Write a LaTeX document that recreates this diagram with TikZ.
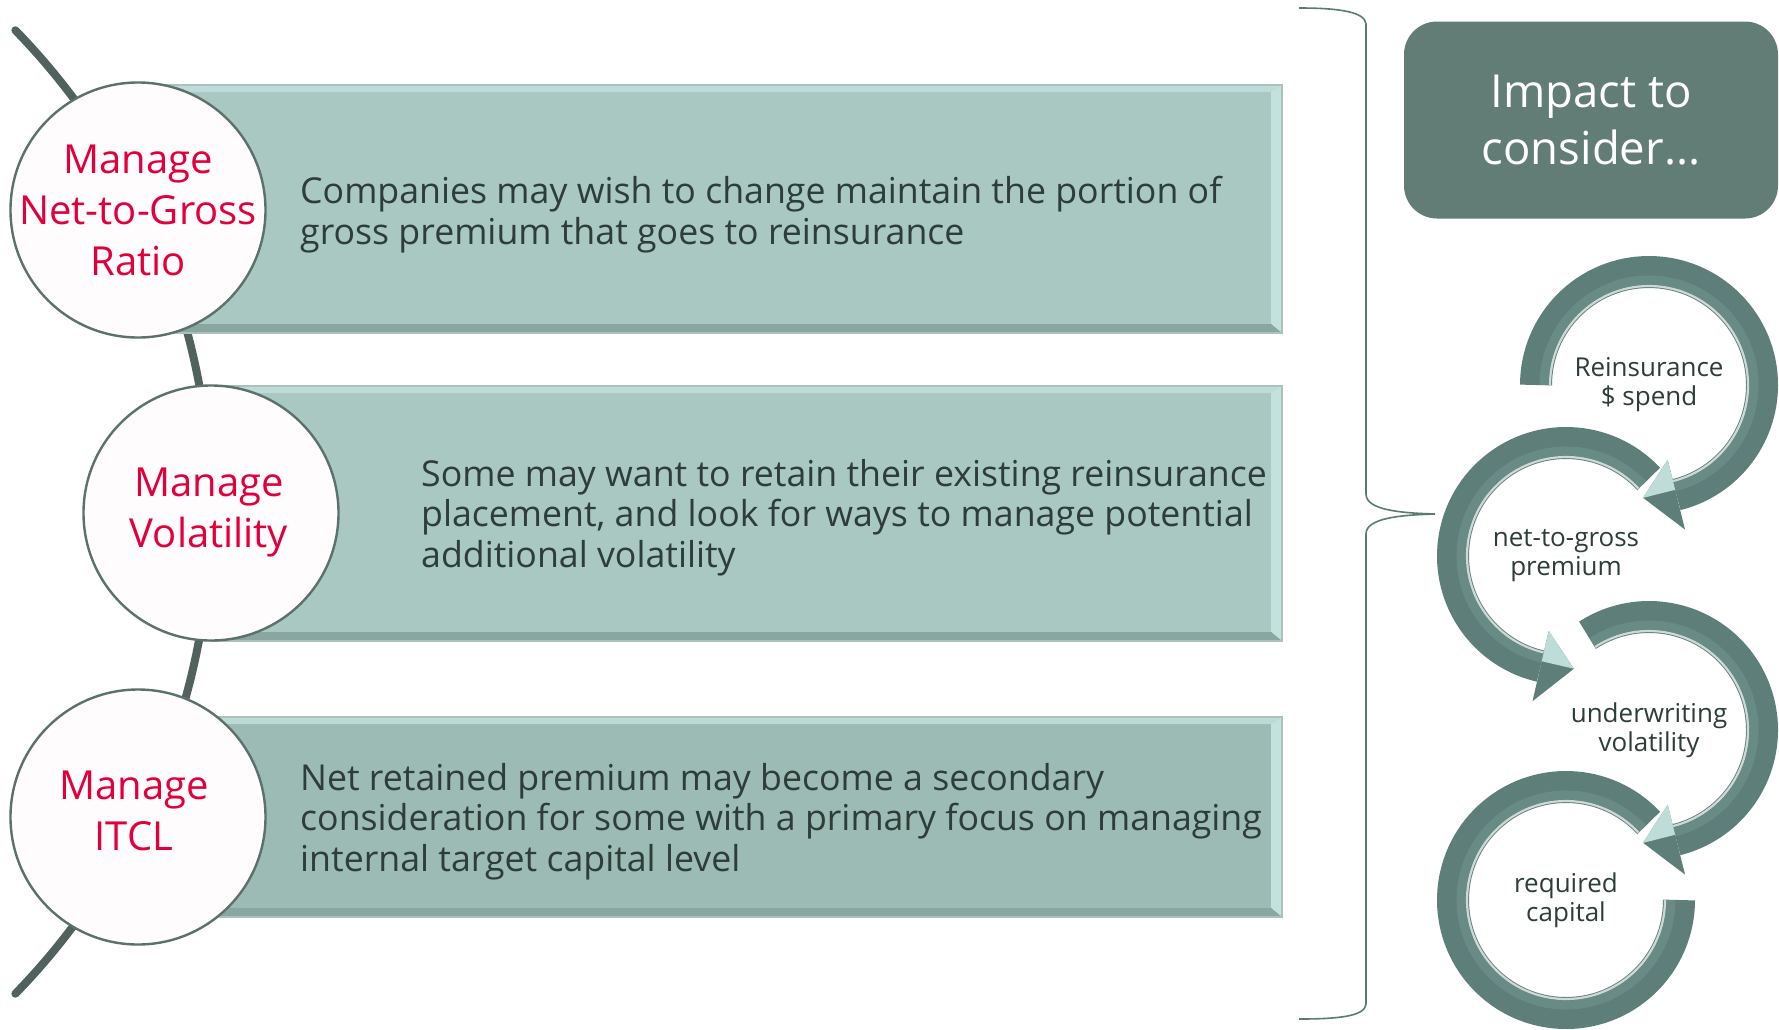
\documentclass[tikz,border=0pt]{standalone}
\usepackage{fontspec}
\setmainfont{Open Sans}
\usetikzlibrary{calc}

\definecolor{ink}{HTML}{2E3D39}
\definecolor{crim}{HTML}{E1003C}
\definecolor{barA}{HTML}{A8C8C1}
\definecolor{barB}{HTML}{9CBBB4}
\definecolor{bevL}{HTML}{C3E2DD}
\definecolor{bevD}{HTML}{8AA6A0}
\definecolor{spineC}{HTML}{4F625D}
\definecolor{rimC}{HTML}{5C716C}
\definecolor{bubbleC}{HTML}{FFFCFE}
\definecolor{ringC}{HTML}{5E7F79}
\definecolor{ringM}{HTML}{7FA39D}
\definecolor{headL}{HTML}{BFDDD8}
\definecolor{boxC}{HTML}{627C76}
\definecolor{braceC}{HTML}{5B7A74}

% bevelled bar: x0, y0, x1, y1, fill colour
\newcommand\bevelbar[5]{%
  \fill[#5] (#1,#2) rectangle (#3,#4);
  \fill[bevL,opacity=.8] (#1,#2) -- (#3,#2) -- (#3-11,#2+7) -- (#1,#2+7) -- cycle;
  \fill[bevL] (#3,#2) -- (#3,#4) -- (#3-11,#4-9) -- (#3-11,#2+7) -- cycle;
  \fill[bevD] (#1,#4) -- (#3,#4) -- (#3-11,#4-9) -- (#1,#4-9) -- cycle;
  \draw[bevD!70!white, line width=1.2pt] (#1,#2) rectangle (#3,#4);
}
% ring body: centre, start angle, end angle
\newcommand\ringarc[3]{%
  \draw[ringC, line width=32pt] ($(#1)+(#2:113)$) arc[start angle=#2, end angle=#3, radius=113];
  \draw[ringM, line width=9pt, opacity=.35] ($(#1)+(#2:105)$) arc[start angle=#2, end angle=#3, radius=105];
  \draw[white, line width=2.2pt, opacity=.7] ($(#1)+(#2:99)$) arc[start angle=#2, end angle=#3, radius=99];
}
% ring arrow head: centre, base angle, tip angle
\newcommand\ringhead[3]{%
  \fill[ringC] ($(#1)+(#2:77)$) -- ($(#1)+(#3:113)$) -- ($(#1)+(#2:149)$) -- cycle;
  \fill[headL] ($(#1)+(#2:77)$) -- ($(#1)+(#3:113)$) -- ($(#1)+(#2:108)$) -- cycle;
}

\begin{document}
\begin{tikzpicture}[x=1pt,y=-1pt,
  bubble/.style={circle, minimum size=255pt, inner sep=0pt, fill=bubbleC, draw=rimC, line width=2.4pt},
  redlbl/.style={text=crim, font=\fontsize{40}{51}\selectfont, align=center, anchor=base, inner sep=0pt},
  body/.style={text=ink, font=\fontsize{35.7}{40.5}\selectfont, align=left, anchor=base west, inner sep=0pt},
  impactbox/.style={rounded corners=33pt, fill=boxC, text=white, font=\fontsize{45.5}{57}\selectfont,
    align=center, minimum width=374pt, minimum height=197pt, inner sep=0pt},
  ringlbl/.style={text=ink, font=\fontsize{26}{29}\selectfont, align=center, inner sep=0pt},
]
\useasboundingbox (0,0) rectangle (1779,1029);
\fill[white] (0,0) rectangle (1779,1029);

% spine behind the circles
\draw[spineC, line width=8pt, line cap=round] (-480,512) ++(-44.2:691)
  arc[start angle=-44.2, end angle=44.2, radius=691];

% bars
\bevelbar{138}{85}{1282}{333}{barA}
\bevelbar{211}{386}{1282}{641}{barA}
\bevelbar{138}{717}{1282}{917}{barB}

% circles (labels placed by the baseline of their last line)
\node[bubble] (m1) at (138,210) {};
\node[bubble] (m2) at (211,513) {};
\node[bubble] (m3) at (138,817) {};
\node[redlbl] (m1t) at (138,275) {Manage\\Net-to-Gross\\Ratio};
\node[redlbl] (m2t) at (209,547) {Manage\\Volatility};
\node[redlbl] (m3t) at (134,850) {Manage\\ITCL};

% bar texts
\node[body] (t1) at (300,244) {Companies may wish to change maintain the portion of\\gross premium that goes to reinsurance};
\node[body] (t2) at (421,567) {Some may want to retain their existing reinsurance\\placement, and look for ways to manage potential\\additional volatility};
\node[body] (t3) at (300,871) {Net retained premium may become a secondary\\consideration for some with a primary focus on managing\\internal target capital level};

% brace
\coordinate (btop) at (1299,8);
\coordinate (btip) at (1435,514);
\coordinate (bbot) at (1299,1019);
\draw[braceC, line width=1.6pt] (btop) .. controls (1340,8) and (1365,12) .. (1366,24)
  -- (1366,494) .. controls (1366,510) and (1400,513) .. (btip)
  .. controls (1400,515) and (1366,518) .. (1366,534)
  -- (1366,1004) .. controls (1365,1016) and (1340,1019) .. (bbot);

% heading box
\node[impactbox] (imp) at (1591,120) {Impact to\\consider...};

% circular arrows
\coordinate (A1) at (1649,385);
\coordinate (A2) at (1566,556);
\coordinate (A3) at (1649,730);
\coordinate (A4) at (1566,900);
\ringarc{A1}{-180}{76}
\ringhead{A1}{76}{93}
\ringarc{A2}{-43}{-257}
\ringhead{A2}{103}{86}
\ringarc{A3}{-123}{76}
\ringhead{A3}{76}{93}
\ringarc{A4}{-43}{-360}

\node[ringlbl] (L1) at (A1) {Reinsurance\\\$ spend};
\node[ringlbl] (L2) at (A2) {net-to-gross\\premium};
\node[ringlbl] (L3) at (A3) {underwriting\\volatility};
\node[ringlbl] (L4) at (A4) {required\\capital};
\end{tikzpicture}
\end{document}
